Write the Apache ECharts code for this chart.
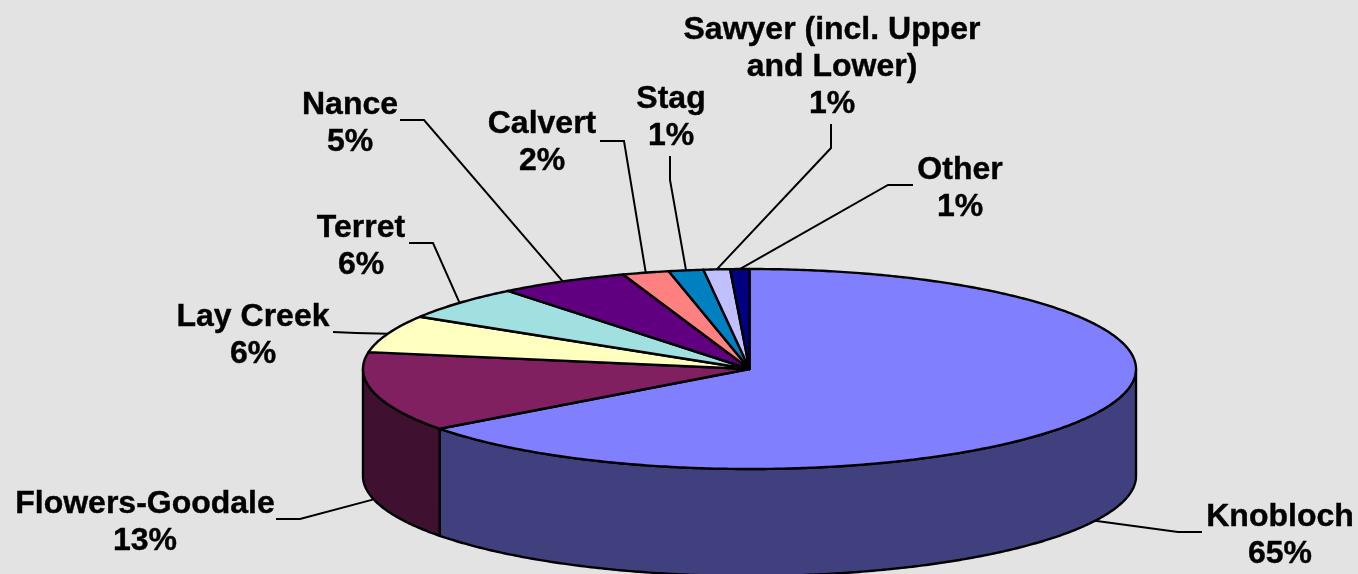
<!DOCTYPE html>
<html>
<head>
<meta charset="utf-8">
<title>Pie</title>
<style>
  html, body { margin: 0; padding: 0; background: #e3e3e3; }
  #chart { width: 1358px; height: 574px; }
</style>
<script src="https://cdn.jsdelivr.net/npm/echarts@6/dist/echarts.min.js"></script>
</head>
<body>
<div id="chart"></div>
<script>
// data
var categories = ['Knobloch', 'Flowers-Goodale', 'Lay Creek', 'Terret', 'Nance', 'Calvert', 'Stag', 'Sawyer (incl. Upper\nand Lower)', 'Other'];
var shares = [64.8, 12.9, 6.05, 5.5, 5.45, 1.95, 1.45, 1.1, 0.8];
var topColors = ['#8080ff', '#802060', '#ffffc0', '#a0e0e0', '#600080', '#ff8080', '#0080c0', '#c0c0ff', '#000080'];
var sideColors = ['#40407f', '#401030', '#7f7f60', '#507070', '#300040', '#7f4040', '#004060', '#60607f', '#000040'];

// label centre and the two free points of each leader line
var labelCenters = [[1280, 536], [145, 523], [253, 336], [361, 247], [350, 124], [542, 143], [671, 118], [832, 67], [960, 189]];
var leaderPoints = [
  [[1202, 532], [1178, 532]],
  [[276, 519], [300, 519]],
  [[333, 332], [356, 333]],
  [[409, 243], [433, 243]],
  [[400, 120], [424, 120]],
  [[600, 141], [624, 141]],
  [[670, 156], [670, 180]],
  [[831, 124], [831, 148]],
  [[913, 185], [888, 185]]
];

// pie projection: ellipse in px, depth of the cylinder wall
var cx = 749.5, cy = 369, rx = 386.5, ry = 100, depth = 107;
var lineColor = '#000';

var total = shares.reduce(function (a, b) { return a + b; }, 0);
var sliceData = [];
var running = 0;
shares.forEach(function (v) {
  sliceData.push([running, v]);
  running += v;
});

function toAngle(share) {
  return share / total * Math.PI * 2;
}

// point on the rim, angle runs clockwise from the back of the pie
function rim(a, dy) {
  return [cx + rx * Math.sin(a), cy - ry * Math.cos(a) + (dy || 0)];
}

function arc(a0, a1, dy) {
  var n = Math.max(2, Math.ceil(Math.abs(a1 - a0) / 0.01));
  var pts = [];
  for (var i = 0; i <= n; i++) {
    pts.push(rim(a0 + (a1 - a0) * i / n, dy));
  }
  return pts;
}

function renderSide(params, api) {
  // only the front half of the wall can be seen
  var a0 = Math.max(toAngle(api.value(0)), Math.PI / 2);
  var a1 = Math.min(toAngle(api.value(0) + api.value(1)), Math.PI * 1.5);
  if (a1 <= a0) return null;
  return {
    type: 'polygon',
    shape: { points: arc(a0, a1, 0).concat(arc(a1, a0, depth)) },
    style: { fill: sideColors[params.dataIndex], stroke: lineColor, lineWidth: 2.4, lineJoin: 'round' }
  };
}

function renderTop(params, api) {
  var a0 = toAngle(api.value(0));
  var a1 = toAngle(api.value(0) + api.value(1));
  return {
    type: 'polygon',
    shape: { points: [[cx, cy]].concat(arc(a0, a1, 0)) },
    style: { fill: topColors[params.dataIndex], stroke: lineColor, lineWidth: 2.4, lineJoin: 'round' }
  };
}

function renderLabel(params, api) {
  var i = params.dataIndex;
  var mid = toAngle(api.value(0) + api.value(1) / 2);
  // leader ends on the slice's outer edge, on the wall when it faces front
  var isFront = mid > Math.PI / 2 && mid < Math.PI * 1.5;
  var anchor = rim(mid, isFront ? depth : 0);
  return {
    type: 'group',
    children: [
      {
        type: 'polyline',
        shape: { points: leaderPoints[i].concat([anchor]) },
        style: { fill: null, stroke: lineColor, lineWidth: 2 }
      },
      {
        type: 'text',
        style: {
          x: labelCenters[i][0],
          y: labelCenters[i][1],
          text: categories[i] + '\n' + Math.round(api.value(1)) + '%',
          fill: '#000',
          stroke: '#000',
          lineWidth: 0.4,
          fontFamily: '"Liberation Sans", Arial, sans-serif',
          fontWeight: 'bold',
          fontSize: 32,
          lineHeight: 37,
          align: 'center',
          verticalAlign: 'middle'
        }
      }
    ]
  };
}

var chart = echarts.init(document.getElementById('chart'));
chart.setOption({
  backgroundColor: '#e3e3e3',
  animation: false,
  series: [
    { type: 'custom', coordinateSystem: 'none', silent: true, data: sliceData, renderItem: renderSide },
    { type: 'custom', coordinateSystem: 'none', silent: true, data: sliceData, renderItem: renderTop },
    { type: 'custom', coordinateSystem: 'none', silent: true, data: sliceData, renderItem: renderLabel }
  ]
});
</script>
</body>
</html>
